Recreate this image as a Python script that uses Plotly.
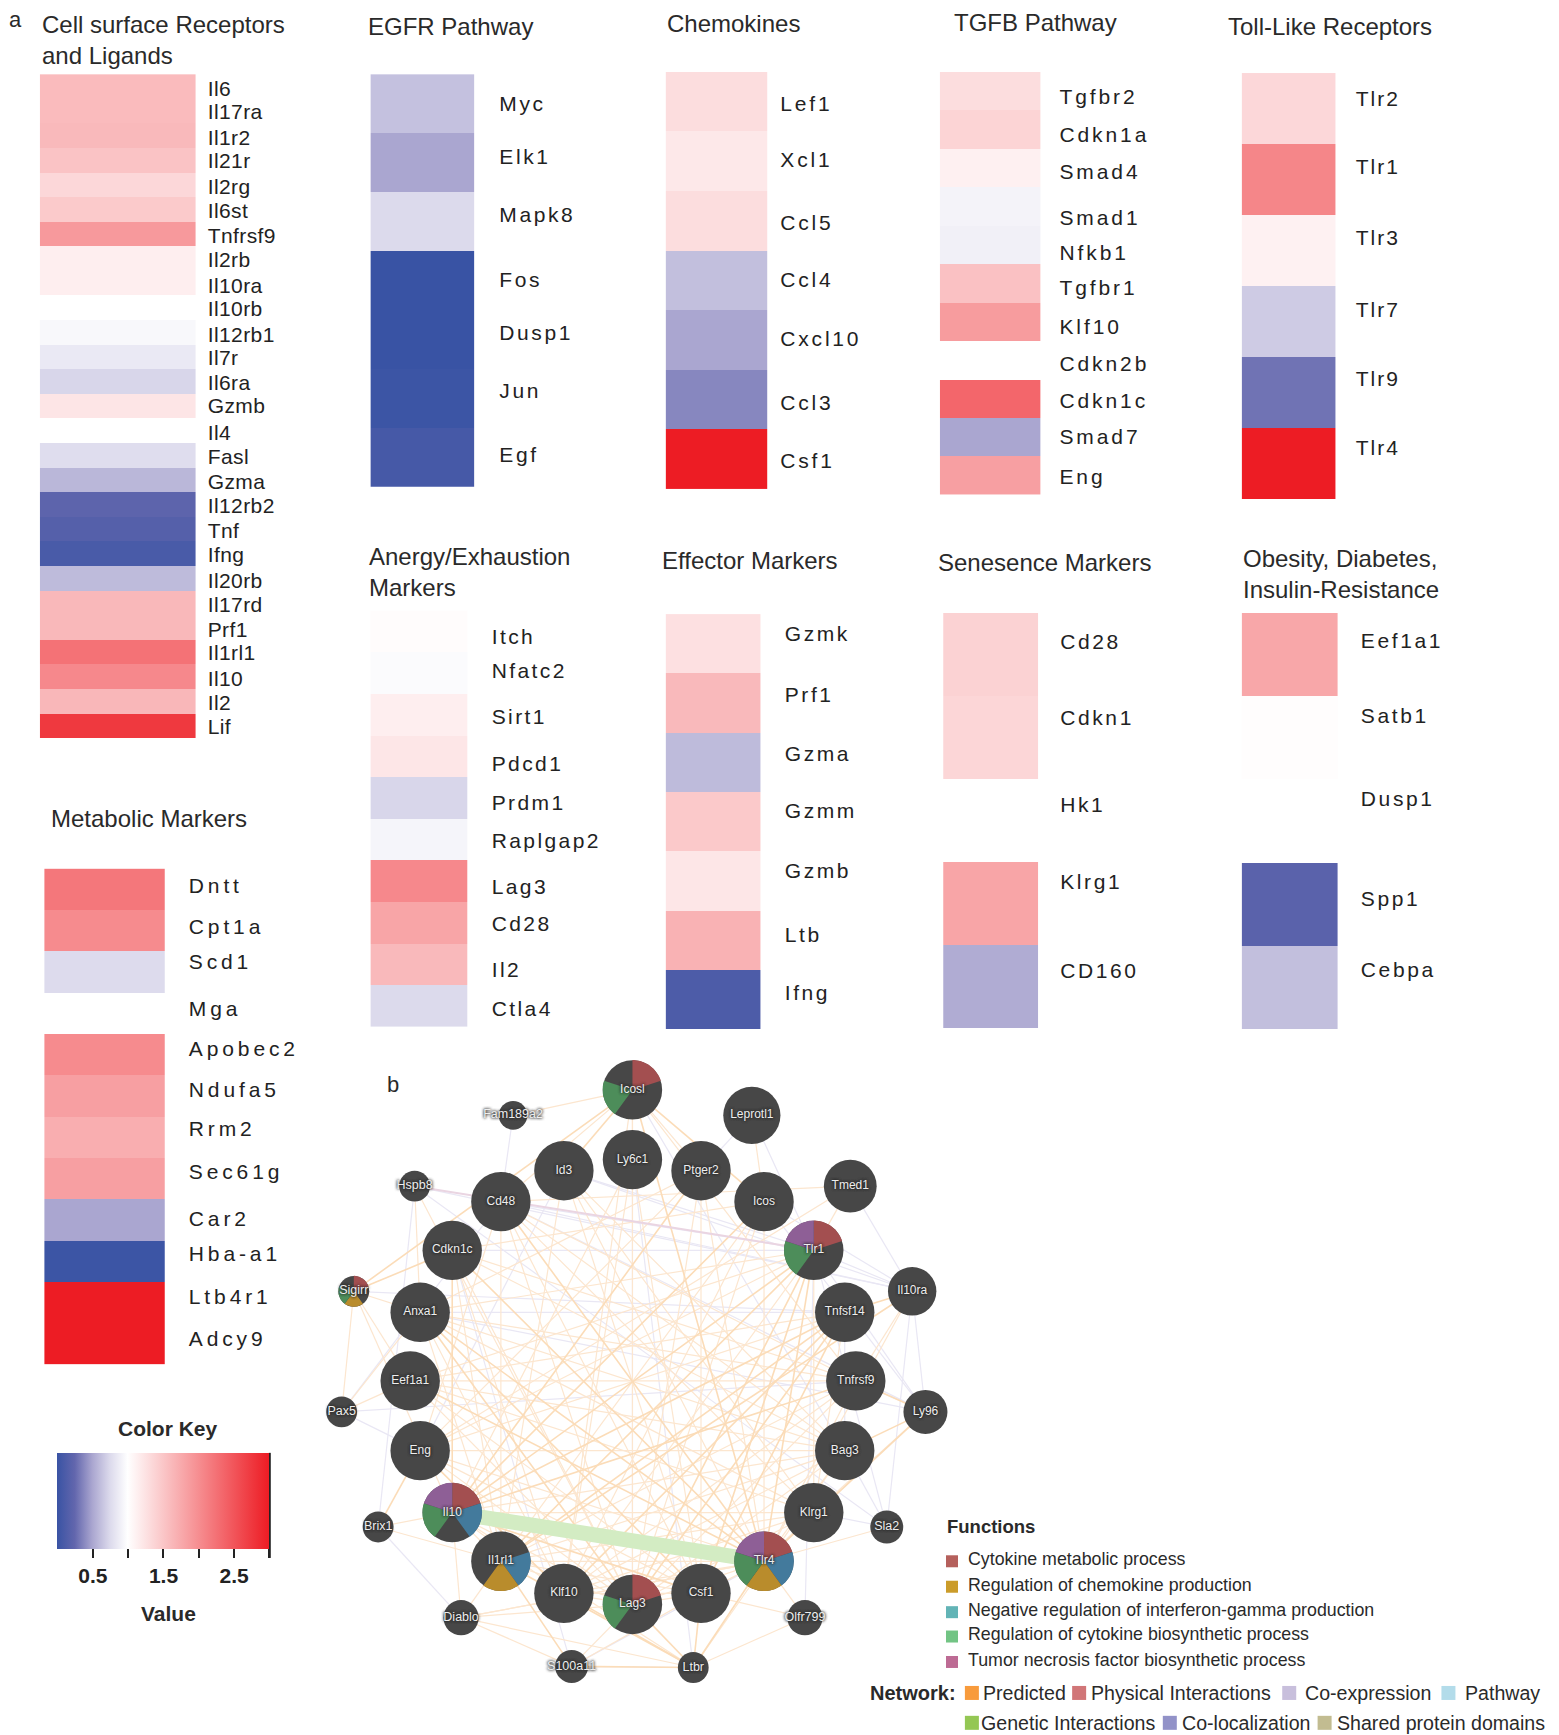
import numpy as np
import plotly.graph_objects as go

# ---------- heat-map data ----------
cell_genes = ["Il6","Il17ra","Il1r2","Il21r","Il2rg","Il6st","Tnfrsf9","Il2rb","Il10ra","Il10rb","Il12rb1","Il7r","Il6ra","Gzmb","Il4","Fasl","Gzma","Il12rb2","Tnf","Ifng","Il20rb","Il17rd","Prf1","Il1rl1","Il10","Il2","Lif"]
cell_vals = [1.6,1.6,1.62,1.53,1.35,1.47,1.9,1.15,1.15,1.0,.95,.85,.73,1.23,1.0,.77,.58,.22,.17,.1,.6,1.63,1.63,2.25,2.05,1.64,2.75]
egfr_genes = ["Myc","Elk1","Mapk8","Fos","Dusp1","Jun","Egf"]
egfr_vals = [.63,.5,.75,0.0,0.0,.02,.08]
chemo_genes = ["Lef1","Xcl1","Ccl5","Ccl4","Cxcl10","Ccl3","Csf1"]
chemo_vals = [1.3,1.2,1.3,.62,.5,.38,3.0]
tgfb_genes = ["Tgfbr2","Cdkn1a","Smad4","Smad1","Nfkb1","Tgfbr1","Klf10","Cdkn2b","Cdkn1c","Smad7","Eng"]
tgfb_vals = [1.3,1.38,1.13,.92,.9,1.55,1.88,1.0,2.35,.5,1.85]
tlr_genes = ["Tlr2","Tlr1","Tlr3","Tlr7","Tlr9","Tlr4"]
tlr_vals = [1.35,2.07,1.12,.68,.3,3.0]
anergy_genes = ["Itch","Nfatc2","Sirt1","Pdcd1","Prdm1","Raplgap2","Lag3","Cd28","Il2","Ctla4"]
anergy_vals = [1.03,.97,1.15,1.22,.73,.93,2.05,1.8,1.62,.75]
effector_genes = ["Gzmk","Prf1","Gzma","Gzmm","Gzmb","Ltb","Ifng"]
effector_vals = [1.27,1.62,.6,1.48,1.22,1.68,.12]
senes_genes = ["Cd28","Cdkn1","Hk1","Klrg1","CD160"]
senes_vals = [1.4,1.36,1.0,1.8,.53]
obesity_genes = ["Eef1a1","Satb1","Dusp1","Spp1","Cebpa"]
obesity_vals = [1.78,1.02,1.0,.2,.62]
metab_genes = ["Dntt","Cpt1a","Scd1","Mga","Apobec2","Ndufa5","Rrm2","Sec61g","Car2","Hba-a1","Ltb4r1","Adcy9"]
metab_vals = [2.2,2.03,.76,1.0,2.03,1.85,1.72,1.85,.5,.02,3.0,3.0]

key_ticks = [0.5,1,1.5,2,2.5,3]
key_ticklabels = ["0.5","","1.5","","2.5",""]

# ---------- network data ----------
node_names = ["Icosl","Ly6c1","Ptger2","Id3","Cd48","Icos","Cdkn1c","Tlr1","Anxa1","Tnfsf14","Eef1a1","Tnfrsf9","Eng","Bag3","Il10","Klrg1","Il1rl1","Tlr4","Klf10","Csf1","Lag3","Leprotl1","Tmed1","Il10ra","Ly96","Sla2","Olfr799","Ltbr","S100a11","Diablo","Brix1","Pax5","Sigirr","Hspb8","Fam189a2"]
node_cx = [572,572,634,510,453,691,409,736,380,764,371,774,380,764,409,736,453,691,510,634,572,680,769,825,837,802,728,627,517,417,342,309,320,375,464]
node_cy = [985,1048,1058,1058,1086,1086,1130,1130,1186,1186,1248,1248,1311,1311,1367,1367,1411,1411,1440,1440,1450,1008,1072,1167,1276,1380,1462,1507,1506,1462,1380,1276,1167,1072,1008]
node_r = [27,27,27,27,27,27,27,27,27,27,27,27,27,27,27,27,27,27,27,27,27,26,24,22,20,15,16,14,15,16,14,14,14,14,13]

edges_strong = "Tlr4 Anxa1,Tlr4 Cd48,Tlr4 Cdkn1c,Tlr4 Eef1a1,Tlr4 Tlr1,Tlr4 Icosl,Tlr4 Ly96,Il10 Tnfsf14,Il10 Tnfrsf9,Il10 Tlr1,Il10 Icos,Il10 Ptger2,Il10 Cdkn1c,Lag3 Tnfsf14,Lag3 Tlr1,Lag3 Anxa1,Csf1 Tnfsf14,Csf1 Tlr1,Csf1 Il10,Csf1 Anxa1,Il1rl1 Tnfsf14,Il1rl1 Tlr1,Il1rl1 Il10ra,Klf10 Tnfsf14,Klf10 Eng,Icosl Icos,Icosl Id3,Icosl Sigirr,Cdkn1c Sigirr,Eng Brix1,Tnfsf14 Il10ra,Ly96 Bag3,Ly96 Tnfrsf9,Ltbr Lag3,Ltbr Csf1,Ltbr Tlr4,Ltbr Klf10,Ltbr Il1rl1,S100a11 Il1rl1,Ltbr S100a11"
edges_thin = "Icosl Cd48,Icosl Lag3,Icosl Ptger2,Icosl Ly6c1,Icosl Klf10,Icosl Tnfrsf9,Icos Klf10,Icos Tlr4,Icos Lag3,Icos Il1rl1,Icos Cdkn1c,Leprotl1 Icos,Tmed1 Tlr1,Tmed1 Cd48,Tmed1 Eng,Ptger2 Csf1,Ptger2 Tlr4,Ptger2 Eng,Ptger2 Anxa1,Ptger2 Lag3,Id3 Csf1,Id3 Klrg1,Id3 Il1rl1,Id3 Tlr4,Id3 Bag3,Ly6c1 Klf10,Ly6c1 Csf1,Ly6c1 Il10,Cd48 Klrg1,Cd48 Csf1,Cd48 Bag3,Cd48 Lag3,Cd48 Il1rl1,Cd48 Eng,Cd48 Tnfrsf9,Cdkn1c Klf10,Cdkn1c Bag3,Cdkn1c Lag3,Cdkn1c Il1rl1,Cdkn1c Tnfrsf9,Tlr1 Klf10,Tlr1 Eng,Tlr1 Eef1a1,Tlr1 Anxa1,Tlr1 Klrg1,Anxa1 Klf10,Anxa1 Bag3,Anxa1 Klrg1,Anxa1 Il1rl1,Anxa1 Sigirr,Anxa1 Tnfrsf9,Tnfsf14 Eng,Tnfsf14 Eef1a1,Tnfsf14 Klrg1,Eef1a1 Csf1,Eef1a1 Klrg1,Eef1a1 Tnfrsf9,Eef1a1 Pax5,Eef1a1 Sigirr,Eef1a1 Bag3,Eef1a1 Lag3,Tnfrsf9 Lag3,Tnfrsf9 Klf10,Tnfrsf9 Il1rl1,Tnfrsf9 Tlr4,Eng Tlr4,Eng Csf1,Eng Bag3,Eng Lag3,Bag3 Il10,Bag3 Lag3,Bag3 Klf10,Bag3 Tlr4,Bag3 Il1rl1,Il10 Klrg1,Il10 Lag3,Il10 Klf10,Il10 Il1rl1,Il10 Sigirr,Il10 Brix1,Klrg1 Il1rl1,Klrg1 Klf10,Klrg1 Lag3,Klrg1 Tlr4,Il1rl1 Tlr4,Il1rl1 Lag3,Il1rl1 Csf1,Tlr4 Klf10,Tlr4 Lag3,Tlr4 Csf1,Tlr4 Sla2,Tlr4 Olfr799,Tlr4 Diablo,Klf10 Csf1,Klf10 Lag3,Lag3 Csf1,Diablo Il1rl1,Diablo Lag3,Diablo Ltbr,Diablo Tlr4,Diablo Il10,S100a11 Csf1,S100a11 Lag3,S100a11 Diablo,Ltbr Olfr799,Ltbr Bag3,Ltbr Il10,Olfr799 Csf1,Pax5 Sigirr,Pax5 Anxa1,Brix1 Il1rl1,Fam189a2 Icosl,Il10ra Tlr4,Il10ra Tnfrsf9,Ly96 Klrg1,Ly96 Tlr4,Hspb8 Lag3,Hspb8 Anxa1"
edges_pale = "Hspb8 Il10ra,Cd48 Tlr1,Cd48 Il10ra,Cdkn1c Tlr1,Id3 Tlr1,Id3 Il10ra,Tlr1 Il10ra,Tlr1 Ly96,Il10ra Ly96,Tnfrsf9 Ly96,Pax5 Tnfrsf9,Pax5 Cd48,Pax5 Eng,Sigirr Tnfsf14,Anxa1 Tnfsf14,Ly6c1 Lag3,Ltbr S100a11,Sla2 Tlr1,Sla2 Il10ra,Sla2 Bag3,Klrg1 Sla2,Olfr799 Tlr1,Hspb8 Sla2,Hspb8 Brix1,Fam189a2 Cd48,Leprotl1 Ptger2,Leprotl1 Tlr1,Tmed1 Il10ra,Icosl Bag3,Ly6c1 Ltbr,Cdkn1c S100a11,Icos Ly96,Cd48 Ly96,Anxa1 Ly96,S100a11 Tlr4,Diablo Brix1,Id3 Eng,Tnfsf14 Bag3,Icos Il10ra"
edges_purple = "Hspb8 Tlr1"
edge_green = "Il10 Tlr4"

# clockwise slices from 12 o'clock: cytokine, neg-ifn, chemokine, biosynth, tnf
pie_genes = ["Icosl","Tlr1","Il10","Tlr4","Il1rl1","Lag3","Sigirr"]
pie_slices = [[1,0,0,1,0],[1,0,0,1,1],[1,1,0,1,1],[1,1,1,1,1],[0,1,1,0,0],[1,0,0,1,0],[1,0,1,1,0]]

fn_names = ["Cytokine metabolic process","Regulation of chemokine production","Negative regulation of interferon-gamma production","Regulation of cytokine biosynthetic process","Tumor necrosis factor biosynthetic process"]
fn_colors = ["#b5605c","#cb9c2a","#62b4b6","#72c484","#bd6b94"]
net_names = ["Predicted","Physical Interactions","Co-expression","Pathway","Genetic Interactions","Co-localization","Shared protein domains"]
net_colors = ["#f89b3c","#d17678","#c8bfdc","#b3dcea","#94c754","#9292c8","#c2bc91"]

# ---------- layout helpers (reference measured on a 1410 x 1568 grid) ----------
W, H = 1410.0, 1568.0
FONT = "Liberation Sans"
colorscale = [[0,"#3953a4"],[1/12,"#6266ad"],[1/6,"#aaa6d0"],[.25,"#dcdaec"],[1/3,"#ffffff"],[2/3,"#f68e91"],[1,"#ed1c24"]]

panels = [
 (cell_genes,cell_vals,36,177,67,667,10,.4,[80,101,124,145,169,190,213,235,258,279,302,323,346,367,391,413,435,457,480,501,525,546,569,590,613,635,657]),
 (egfr_genes,egfr_vals,335,429,67,440,22,2.6,[94,142,194,253,301,353,411]),
 (chemo_genes,chemo_vals,602,694,65,442,11,2.8,[94,144,201,253,306,364,416]),
 (tgfb_genes,tgfb_vals,850,941,65,447,17,2.9,[87,122,155,197,228,260,295,329,362,395,431]),
 (tlr_genes,tlr_vals,1123,1208,66,451,18,2,[89,151,215,280,342,405]),
 (anergy_genes,anergy_vals,335,423,552,928,21,2.4,[575,606,648,690,725,760,801,835,876,912]),
 (effector_genes,effector_vals,602,688,555,930,21,2.6,[573,628,681,733,787,845,897]),
 (senes_genes,senes_vals,853,939,554,929,19,2.6,[580,649,727,797,877]),
 (obesity_genes,obesity_vals,1123,1210,554,930,20,2.6,[579,647,722,812,876]),
 (metab_genes,metab_vals,40,149,785,1233,21,3.9,[800,837,869,912,948,985,1020,1059,1101,1133,1172,1210]),
]

fig = go.Figure()
layout = dict(width=1559,height=1735,margin=dict(l=0,r=0,t=0,b=0),paper_bgcolor="white",plot_bgcolor="white",showlegend=False,
    font=dict(family=FONT,color="#222"),
    coloraxis=dict(cmin=0,cmax=3,colorscale=colorscale,showscale=True,
        colorbar=dict(orientation="h",x=52/W,xanchor="left",xref="paper",y=1-1313/H,yanchor="top",yref="paper",
            lenmode="pixels",len=212,thicknessmode="pixels",thickness=96,xpad=0,ypad=0,outlinewidth=0,
            tickmode="array",tickvals=key_ticks,ticktext=key_ticklabels,ticks="outside",ticklen=9,tickwidth=2,tickcolor="#222",
            tickfont=dict(family=FONT,size=21,weight="bold",color="#222"))))

# network axes first: index 1
layout["xaxis"] = dict(domain=[0,1],range=[0,W],visible=False,fixedrange=True)
layout["yaxis"] = dict(domain=[0,1],range=[H,0],visible=False,fixedrange=True)

ls_css = []
for i,(genes,vals,x0,x1,y0,y1,standoff,spacing,label_y) in enumerate(panels):
    k = i+2
    n = len(genes)
    rowh = (y1-y0)/n
    fig.add_trace(go.Heatmap(z=[[v] for v in vals],y=list(range(n)),x=[0],coloraxis="coloraxis",xaxis=f"x{k}",yaxis=f"y{k}",
        customdata=[[g] for g in genes],hovertemplate="%{customdata}: %{z}<extra></extra>"))
    layout[f"xaxis{k}"] = dict(domain=[x0/W,x1/W],anchor=f"y{k}",visible=False,fixedrange=True)
    layout[f"yaxis{k}"] = dict(domain=[1-y1/H,1-y0/H],anchor=f"x{k}",side="right",range=[n-.5,-.5],showgrid=False,zeroline=False,showline=False,
        ticks="",tickmode="array",tickvals=[(ly-y0)/rowh-.5 for ly in label_y],ticktext=genes,ticklabelstandoff=int(standoff*1.106),
        tickfont=dict(family=FONT,size=21,color="#222"),fixedrange=True)
    if spacing:
        ls_css.append((f"y{k}tick",spacing))

# ---------- network ----------
idx = {n:i for i,n in enumerate(node_names)}
def edge_xy(spec):
    xs,ys=[],[]
    for e in spec.split(","):
        a,b=e.split()
        xs+=[node_cx[idx[a]],node_cx[idx[b]],None]
        ys+=[node_cy[idx[a]],node_cy[idx[b]],None]
    return xs,ys
for spec,color,width in [(edges_pale,"#e9e7f4",1.2),(edges_thin,"#fce6cf",1.2),(edges_strong,"#fbdcb8",1.6),(edges_purple,"#ead5e2",2),(edge_green,"#d3ecc3",15)]:
    ex,ey = edge_xy(spec)
    fig.add_trace(go.Scatter(x=ex,y=ey,mode="lines",line=dict(color=color,width=width),hoverinfo="skip"))

fig.add_trace(go.Scatter(x=node_cx,y=node_cy,mode="markers",hoverinfo="text",text=node_names,
    marker=dict(size=[2.2*r for r in node_r],color="#474747",opacity=1,line=dict(width=0))))

slice_colors = ["#a34f50","#437a9c","#b98c2c","#4d8d5a","#8e5f96"]
for s,color in enumerate(slice_colors):
    wx,wy=[],[]
    for g,flags in zip(pie_genes,pie_slices):
        if flags[s]:
            j=idx[g]; t=np.radians(np.linspace(72*s,72*(s+1),25))
            wx+=[node_cx[j]]+list(node_cx[j]+node_r[j]*np.sin(t))+[node_cx[j],None]
            wy+=[node_cy[j]]+list(node_cy[j]-node_r[j]*np.cos(t))+[node_cy[j],None]
    fig.add_trace(go.Scatter(x=wx,y=wy,mode="lines",fill="toself",fillcolor=color,line=dict(width=0,color=color),hoverinfo="skip"))

fig.add_trace(go.Scatter(x=node_cx,y=node_cy,mode="text",text=node_names,hoverinfo="skip",
    textfont=dict(family=FONT,size=[12 if r>=20 else 12.5 for r in node_r],color="#eeeeee",shadow="0 0 3px #222, 0 0 3px #222")))

# legend swatches
fn_sx=[861]*5; fn_sy=[1411,1434,1457,1479,1502]
net_sx=[879,976,1166,1310,879,1058,1198]; net_sy=[1530]*4+[1557]*3
fig.add_trace(go.Scatter(x=fn_sx,y=fn_sy,mode="markers",marker=dict(symbol="square",size=12,color=fn_colors),hoverinfo="skip"))
fig.add_trace(go.Scatter(x=net_sx,y=net_sy,mode="markers",marker=dict(symbol="square",size=14,color=net_colors),hoverinfo="skip"))

anns=[]
def note(text,x,y,size=24,xanchor="left",yanchor="middle",weight=None,color="#2a2a2a"):
    f=dict(family=FONT,size=size,color=color)
    if weight: f["weight"]=weight
    anns.append(dict(text=text,x=x/W,y=1-y/H,xref="paper",yref="paper",xanchor=xanchor,yanchor=yanchor,showarrow=False,font=f,borderpad=0,align="left"))
note("a",7,18,22)
note("b",349,980,22)
for text,x,y in [("Cell surface Receptors<br>and Ligands",37,36),("EGFR Pathway",332,24),("Chemokines",602,21),("TGFB Pathway",862,20),("Toll-Like Receptors",1110,24),
                 ("Anergy/Exhaustion<br>Markers",333,517),("Effector Markers",598,507),("Senesence Markers",847,508),("Obesity, Diabetes,<br>Insulin-Resistance",1123,519),("Metabolic Markers",45,740)]:
    note(text,x,y,24)
note("Color Key",152,1291,21,"center",weight="bold")
note("Value",152,1458,21,"center",weight="bold")
note("Functions",856,1380,18.5,weight="bold")
for t,y in zip(fn_names,[1409,1432,1455,1477,1500]):
    note(t,875,y,17.8)
note("Network:",786,1530,20,weight="bold")
for t,x,y in zip(net_names,[888,986,1179,1324,886,1068,1208],net_sy):
    note(t,x,y,19.6)
layout["annotations"]=anns
layout["shapes"]=[dict(type="line",xref="paper",yref="paper",x0=244/W,x1=244/W,y0=1-1313/H,y1=1-1408/H,line=dict(color="#222",width=2))]

fig.update_layout(**layout)

js = "document.body.style.margin='0';var s=" + repr(ls_css).replace("(","[").replace(")","]") + ";s.forEach(function(p){document.querySelectorAll('.'+p[0]+' text, text.'+p[0]).forEach(function(t){t.style.letterSpacing=p[1]+'px';});});"
fig.write_html("out.html",post_script=js,config=dict(displayModeBar=False))
